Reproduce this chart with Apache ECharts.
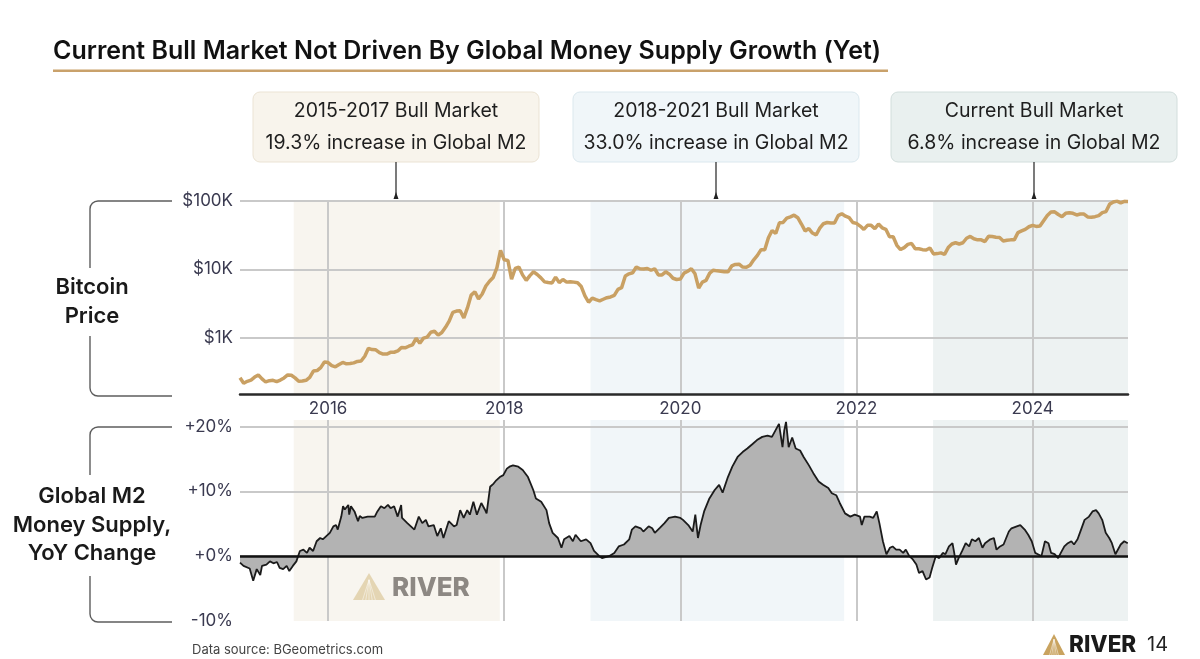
<!DOCTYPE html>
<html>
<head>
<meta charset="utf-8">
<script src="https://cdn.jsdelivr.net/npm/echarts@6/dist/echarts.min.js"></script>
<style>
  html, body { margin: 0; padding: 0; background: #fff; }
  #main { width: 1200px; height: 659px; }
</style>
</head>
<body>
<div id="main"></div>
<script>
// bitcoin price (USD), 1st and 15th of each month, starting Jan 2015
var btcStart = 2015
var btcPrice = [
  260, 215, 230, 240, 265, 285, 250, 225, 235, 238, 228, 240, 258, 285, 282, 258, 230, 232, 238, 262, 325, 330, 365, 440,
  432, 390, 375, 405, 435, 415, 418, 428, 450, 455, 535, 700, 670, 665, 605, 575, 575, 610, 612, 640, 720, 710, 750, 785,
  980, 830, 985, 1020, 1200, 1240, 1090, 1190, 1420, 1750, 2350, 2450, 2480, 1950, 2750, 4200, 4700, 3700, 4350, 5700, 6700, 7600, 10500, 19000,
  13800, 13500, 7200, 10300, 10800, 8300, 6900, 8100, 9200, 8400, 7500, 6550, 6400, 6300, 7700, 6400, 7100, 6500, 6600, 6500, 6350, 5600, 4100, 3300,
  3800, 3600, 3450, 3650, 3850, 3950, 4150, 5100, 5400, 8000, 8600, 8900, 10800, 10200, 10100, 10300, 9700, 10200, 8300, 8300, 9200, 8500, 7400, 7100,
  7200, 8800, 9400, 10200, 8600, 5300, 6500, 6900, 8800, 9700, 9500, 9400, 9200, 9200, 11200, 11800, 11900, 10800, 10700, 11500, 13800, 16000, 19400, 19400,
  29000, 37000, 33500, 48000, 48500, 56000, 58500, 62000, 57000, 46000, 36500, 39500, 34000, 31800, 40000, 46500, 48500, 47500, 47500, 61000, 65000, 60000, 57000, 48500,
  47000, 43000, 38500, 44000, 44000, 39500, 46000, 40500, 38500, 30000, 30000, 22500, 19500, 20800, 23200, 24000, 20000, 20000, 19400, 19200, 20500, 16800, 17000, 17400,
  16600, 20800, 23500, 24500, 23500, 24500, 28500, 30300, 28000, 27000, 27000, 25500, 30500, 30200, 29500, 29200, 26000, 26600, 27000, 27000, 34500, 36500, 38500, 42000,
  44000, 42500, 43000, 51500, 61500, 69000, 69500, 63500, 59000, 66000, 67500, 66000, 62500, 64500, 64500, 58500, 58000, 59000, 61000, 67500, 70000, 90000, 96500, 99500,
  94000, 99000, 98500
]

// global M2 money supply, YoY change in %, [year, value]
var m2Yoy = [
  [2015.0, -1.0], [2015.04, -1.5], [2015.11, -1.9], [2015.15, -3.8], [2015.19, -2.0], [2015.23, -2.9],
  [2015.25, -1.5], [2015.3, -1.3], [2015.34, -0.8], [2015.38, -1.1], [2015.42, -0.9], [2015.45, -1.8],
  [2015.49, -2.0], [2015.53, -1.5], [2015.56, -2.3], [2015.6, -1.5], [2015.64, -0.8], [2015.68, 0.8],
  [2015.72, 1.0], [2015.76, 0.5], [2015.79, 1.3], [2015.83, 0.8], [2015.87, 2.3], [2015.91, 2.8],
  [2015.94, 2.6], [2015.98, 3.1], [2016.02, 3.6], [2016.06, 4.6], [2016.09, 4.8], [2016.11, 4.1],
  [2016.15, 6.1], [2016.17, 7.7], [2016.19, 7.2], [2016.23, 7.9], [2016.24, 6.4], [2016.26, 7.7],
  [2016.3, 6.9], [2016.34, 5.4], [2016.36, 6.2], [2016.39, 5.9], [2016.45, 6.1], [2016.53, 6.1],
  [2016.56, 6.9], [2016.6, 7.7], [2016.64, 7.4], [2016.68, 7.9], [2016.71, 7.4], [2016.75, 7.7],
  [2016.79, 6.1], [2016.83, 7.9], [2016.84, 5.9], [2016.9, 5.1], [2016.98, 4.1], [2017.03, 6.1],
  [2017.07, 5.1], [2017.11, 5.6], [2017.14, 4.6], [2017.2, 4.8], [2017.24, 3.1], [2017.28, 4.3],
  [2017.31, 2.8], [2017.37, 5.4], [2017.43, 4.6], [2017.46, 4.8], [2017.5, 7.1], [2017.54, 5.9],
  [2017.58, 7.1], [2017.61, 6.4], [2017.65, 8.4], [2017.69, 6.4], [2017.74, 8.2], [2017.78, 7.2],
  [2017.8, 6.6], [2017.84, 10.7], [2017.88, 11.2], [2017.91, 11.7], [2017.95, 12.2], [2017.99, 12.5],
  [2018.03, 13.5], [2018.06, 13.8], [2018.1, 14.0], [2018.16, 13.8], [2018.21, 13.3], [2018.27, 12.2],
  [2018.33, 10.2], [2018.36, 8.9], [2018.42, 8.4], [2018.48, 7.1], [2018.51, 5.1], [2018.55, 3.6],
  [2018.61, 2.8], [2018.65, 1.3], [2018.68, 2.6], [2018.74, 3.1], [2018.78, 2.3], [2018.81, 3.3],
  [2018.87, 2.3], [2018.93, 2.6], [2018.98, 2.0], [2019.02, 0.8], [2019.08, 0.0], [2019.11, -0.3],
  [2019.19, 0.0], [2019.25, 0.5], [2019.3, 1.5], [2019.36, 1.8], [2019.42, 2.6], [2019.45, 4.1],
  [2019.49, 4.6], [2019.55, 4.3], [2019.58, 3.8], [2019.64, 4.6], [2019.68, 4.3], [2019.71, 3.6],
  [2019.77, 4.4], [2019.82, 5.1], [2019.87, 5.9], [2019.94, 6.1], [2020.0, 5.9], [2020.03, 5.6],
  [2020.09, 4.8], [2020.14, 3.8], [2020.17, 6.4], [2020.2, 2.8], [2020.23, 4.8], [2020.27, 6.9],
  [2020.33, 8.9], [2020.39, 10.2], [2020.44, 11.0], [2020.48, 9.8], [2020.54, 12.2], [2020.59, 13.8],
  [2020.65, 15.3], [2020.71, 16.1], [2020.76, 16.6], [2020.82, 17.3], [2020.87, 17.9], [2020.93, 18.4],
  [2020.99, 18.6], [2021.04, 18.4], [2021.08, 19.4], [2021.12, 20.4], [2021.16, 16.8], [2021.18, 19.4],
  [2021.2, 20.7], [2021.23, 16.8], [2021.27, 18.3], [2021.31, 16.6], [2021.36, 16.3], [2021.4, 15.3],
  [2021.46, 14.0], [2021.51, 12.8], [2021.57, 11.5], [2021.62, 11.0], [2021.68, 10.5], [2021.72, 9.7],
  [2021.77, 9.4], [2021.81, 8.2], [2021.87, 6.6], [2021.93, 6.1], [2021.98, 6.4], [2022.04, 6.1],
  [2022.06, 4.8], [2022.09, 6.1], [2022.15, 6.1], [2022.19, 5.9], [2022.23, 6.9], [2022.26, 5.1],
  [2022.3, 2.3], [2022.34, 0.3], [2022.38, 1.3], [2022.41, 1.5], [2022.45, 1.0], [2022.49, 1.0],
  [2022.53, 0.5], [2022.56, 1.0], [2022.6, 0.0], [2022.64, -0.5], [2022.68, -1.3], [2022.71, -2.6],
  [2022.75, -2.3], [2022.79, -3.6], [2022.83, -3.3], [2022.86, -1.8], [2022.9, 0.0], [2022.94, -0.3],
  [2022.98, 0.5], [2023.01, 0.3], [2023.05, 1.5], [2023.09, 2.0], [2023.11, 0.5], [2023.13, -1.3],
  [2023.16, -0.3], [2023.2, 0.8], [2023.24, 2.0], [2023.28, 1.5], [2023.31, 2.6], [2023.35, 2.3],
  [2023.39, 2.8], [2023.43, 1.3], [2023.46, 2.0], [2023.52, 2.6], [2023.56, 2.8], [2023.59, 1.0],
  [2023.63, 1.5], [2023.67, 1.8], [2023.73, 3.8], [2023.76, 4.3], [2023.82, 4.6], [2023.86, 4.8],
  [2023.91, 4.1], [2023.95, 3.3], [2023.99, 2.3], [2024.03, 0.5], [2024.06, 0.3], [2024.1, 0.0],
  [2024.14, 2.3], [2024.18, 2.0], [2024.21, 0.5], [2024.25, 0.3], [2024.29, -0.3], [2024.32, 0.5],
  [2024.36, 1.5], [2024.4, 2.0], [2024.44, 2.3], [2024.47, 1.8], [2024.51, 2.6], [2024.55, 4.1],
  [2024.59, 5.6], [2024.64, 6.1], [2024.68, 6.9], [2024.72, 7.1], [2024.75, 6.6], [2024.79, 5.6],
  [2024.83, 3.6], [2024.87, 2.8], [2024.9, 2.0], [2024.94, 0.3], [2024.98, 1.3], [2025.0, 1.8],
  [2025.04, 2.3], [2025.08, 2.0]
]

// bull market periods (decimal years) and their boxes
var bullStart = [2015.61, 2018.98, 2022.87]
var bullEnd = [2017.95, 2021.86, 2025.083]
var bullTitle = ['2015-2017 Bull Market', '2018-2021 Bull Market', 'Current Bull Market']
var bullNote = ['19.3% increase in Global M2', '33.0% increase in Global M2', '6.8% increase in Global M2']
var bullShade = ['#f8f5ef', '#f1f6f9', '#edf2f2']
var boxFill = ['#f8f4ec', '#f0f6f9', '#e9f0ef']
var boxStroke = ['#ebe3d4', '#dbe8ee', '#d2dedc']
var boxLeft = [253, 573, 891]

var priceLabels = { 1000: '$1K', 10000: '$10K', 100000: '$100K' }

var FONT = 'Inter, "Noto Sans", sans-serif'
var xMin = 2015
var xMax = 2025.083
var gridColor = '#c9c9c9'
var labelColor = '#3a3a50'

var chartDom = document.getElementById('main')
var myChart = echarts.init(chartDom, null, { renderer: 'canvas' })

var btcData = btcPrice.map(function (p, i) {
  return [btcStart + i / 24, p]
})

var shadeAreas = bullStart.map(function (s, i) {
  return [{ xAxis: s, itemStyle: { color: bullShade[i] } }, { xAxis: bullEnd[i] }]
})

// decorations: title, boxes, arrows, brackets, labels, logos
var graphics = []
graphics.push({
  type: 'text', x: 53, y: 51,
  style: { text: 'Current Bull Market Not Driven By Global Money Supply Growth (Yet)', font: '600 25px ' + FONT, fill: '#111', verticalAlign: 'middle' }
})
graphics.push({ type: 'rect', shape: { x: 53, y: 69.5, width: 835, height: 2.5 }, style: { fill: '#c9a16b' } })

boxLeft.forEach(function (bx, i) {
  var cx = bx + 143
  graphics.push({
    type: 'rect', shape: { x: bx, y: 92, width: 286, height: 70, r: 7 },
    style: { fill: boxFill[i], stroke: boxStroke[i], lineWidth: 1 }
  })
  graphics.push({
    type: 'text', x: cx, y: 111,
    style: { text: bullTitle[i], font: '19.5px ' + FONT, fill: '#1e1e1e', align: 'center', verticalAlign: 'middle' }
  })
  graphics.push({
    type: 'text', x: cx, y: 143,
    style: { text: bullNote[i], font: '19.5px ' + FONT, fill: '#1e1e1e', align: 'center', verticalAlign: 'middle' }
  })
  graphics.push({ type: 'line', shape: { x1: cx, y1: 162, x2: cx, y2: 195 }, style: { stroke: '#222', lineWidth: 1.2 } })
  graphics.push({ type: 'polygon', shape: { points: [[cx - 2.5, 199], [cx + 2.5, 199], [cx, 192]] }, style: { fill: '#222' } })
})

function bracket(top, bottom, gapTop, gapBottom) {
  var st = { stroke: '#5c5c5c', lineWidth: 1.4 }
  var r = 8
  return [
    { type: 'line', shape: { x1: 90 + r, y1: top, x2: 172, y2: top }, style: st },
    { type: 'arc', shape: { cx: 90 + r, cy: top + r, r: r, startAngle: Math.PI, endAngle: Math.PI * 1.5, clockwise: true }, style: { stroke: st.stroke, lineWidth: st.lineWidth, fill: null } },
    { type: 'line', shape: { x1: 90, y1: top + r, x2: 90, y2: gapTop }, style: st },
    { type: 'line', shape: { x1: 90, y1: gapBottom, x2: 90, y2: bottom - r }, style: st },
    { type: 'arc', shape: { cx: 90 + r, cy: bottom - r, r: r, startAngle: Math.PI * 0.5, endAngle: Math.PI, clockwise: true }, style: { stroke: st.stroke, lineWidth: st.lineWidth, fill: null } },
    { type: 'line', shape: { x1: 90 + r, y1: bottom, x2: 172, y2: bottom }, style: st }
  ]
}
graphics = graphics.concat(bracket(201, 396, 268, 336), bracket(427, 622, 475, 576))

graphics.push({
  type: 'text', x: 92, y: 302,
  style: { text: 'Bitcoin\nPrice', font: '600 22px ' + FONT, lineHeight: 29, fill: '#1a1a1a', align: 'center', verticalAlign: 'middle' }
})
graphics.push({
  type: 'text', x: 92, y: 525,
  style: { text: 'Global M2\nMoney Supply,\nYoY Change', font: '600 22px ' + FONT, lineHeight: 28.5, fill: '#1a1a1a', align: 'center', verticalAlign: 'middle' }
})

graphics.push({
  type: 'text', x: 192, y: 650,
  style: { text: 'Data source: BGeometrics.com', font: '13px ' + FONT, fill: '#444', verticalAlign: 'middle' }
})

// RIVER logo mark
function riverIcon(x, y, w, h, color, z) {
  var out = [{ type: 'polygon', z: z, shape: { points: [[x, y + h], [x + w / 2, y], [x + w, y + h]] }, style: { fill: color } }]
  for (var k = 1; k < 6; k++) {
    out.push({
      type: 'line', z: z,
      shape: { x1: x + w / 2, y1: y + h * 0.25, x2: x + w * 0.2 + (w * 0.6 * k) / 6, y2: y + h },
      style: { stroke: 'rgba(255,255,255,0.6)', lineWidth: 0.8 }
    })
  }
  return out
}
// watermark inside the lower chart, above the shading
graphics = graphics.concat(riverIcon(353, 573, 32, 27, '#e4d5b3', 20))
graphics.push({
  type: 'text', x: 392, y: 588, z: 20,
  style: { text: 'RIVER', font: '800 26px ' + FONT, fill: '#8d8883', verticalAlign: 'middle' }
})

// footer logo and page number
graphics = graphics.concat(riverIcon(1043, 634, 22, 21, '#c9a35f', 20))
graphics.push({
  type: 'text', x: 1069, y: 645,
  style: { text: 'RIVER', font: '800 22.5px ' + FONT, fill: '#1a1a1a', verticalAlign: 'middle' }
})
graphics.push({
  type: 'text', x: 1147, y: 645,
  style: { text: '14', font: '20px ' + FONT, fill: '#222', verticalAlign: 'middle' }
})

var splitStyle = { color: gridColor, width: 2 }

var option = {
  animation: false,
  backgroundColor: '#fff',
  textStyle: { fontFamily: FONT },
  graphic: graphics,
  grid: [
    { left: 240, right: 72, top: 201, height: 193 },
    { left: 240, right: 72, top: 420, height: 201 }
  ],
  xAxis: [
    {
      type: 'value', gridIndex: 0, min: xMin, max: xMax, splitNumber: 5, z: 1.5,
      axisLine: { onZero: false, lineStyle: { color: '#2a2a2a', width: 2.5 } },
      axisTick: { show: false },
      axisLabel: {
        color: labelColor, fontSize: 17, margin: 6,
        formatter: function (v) { return Math.abs(v - Math.round(v)) < 1e-6 && Math.round(v) % 2 === 0 ? String(Math.round(v)) : '' }
      },
      splitLine: { show: true, showMinLine: false, showMaxLine: false, lineStyle: splitStyle }
    },
    {
      type: 'value', gridIndex: 1, min: xMin, max: xMax, splitNumber: 5, z: 1.5,
      axisLine: { show: false }, axisTick: { show: false }, axisLabel: { show: false },
      splitLine: { show: true, showMinLine: false, showMaxLine: false, lineStyle: splitStyle }
    }
  ],
  yAxis: [
    {
      type: 'log', gridIndex: 0, logBase: 10, min: 150, max: 100000, z: 1.5,
      axisLine: { show: false }, axisTick: { show: false },
      axisLabel: {
        color: labelColor, fontSize: 17, margin: 7,
        formatter: function (v) { return priceLabels[Math.round(v)] || '' }
      },
      splitLine: { show: true, showMinLine: false, lineStyle: splitStyle }
    },
    {
      type: 'value', gridIndex: 1, min: -10, max: 21, interval: 10, z: 1.5,
      axisLine: { show: false }, axisTick: { show: false },
      axisLabel: {
        color: labelColor, fontSize: 17, margin: 7,
        formatter: function (v) { return v > 20 ? '' : (v >= 0 ? '+' : '') + v + '%' }
      },
      splitLine: { show: true, showMinLine: false, showMaxLine: false, lineStyle: splitStyle }
    }
  ],
  series: [
    {
      name: 'Bitcoin Price',
      type: 'line',
      xAxisIndex: 0,
      yAxisIndex: 0,
      data: btcData,
      showSymbol: false,
      symbol: 'none',
      lineStyle: { color: '#c9a063', width: 3.5 },
      markArea: { silent: true, data: shadeAreas }
    },
    {
      name: 'Global M2 YoY',
      type: 'line',
      xAxisIndex: 1,
      yAxisIndex: 1,
      data: m2Yoy,
      showSymbol: false,
      symbol: 'none',
      lineStyle: { color: '#1b1b1b', width: 1.8 },
      areaStyle: { color: '#b3b3b3', opacity: 1 },
      markArea: { silent: true, data: shadeAreas },
      markLine: {
        silent: true, symbol: ['none', 'none'],
        label: { show: false },
        lineStyle: { color: '#111', width: 2.5, type: 'solid' },
        data: [{ yAxis: 0 }]
      }
    }
  ]
}

option && myChart.setOption(option)
</script>
</body>
</html>
